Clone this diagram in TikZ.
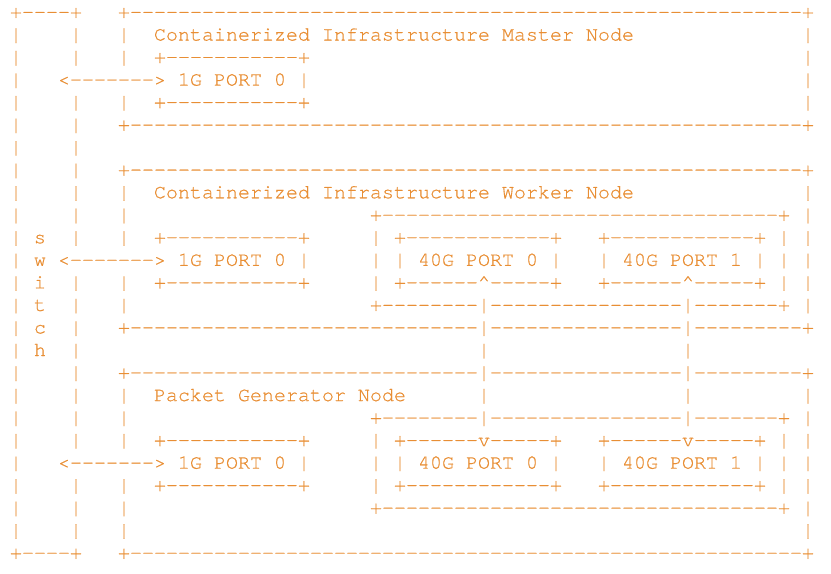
\documentclass[tikz,border=0pt]{standalone}
\usepackage{fontspec}
\setmonofont{texgyrecursor-regular.otf}[FakeBold=0.6]
\tikzset{
  ascii-row/.style={
    anchor=base west,
    inner sep=0pt,
    outer sep=0pt,
    text=asciiorange,
    font=\ttfamily\fontsize{15}{18}\selectfont
  }
}
\definecolor{asciiorange}{RGB}{232,142,52}
\newcommand{\rowpitch}{16.9pt}
\newcommand{\dashes}[1]{\foreach \k in {1,...,#1}{-}}
\newcommand{\blank}[1]{\foreach \k in {1,...,#1}{~}}
\newcommand{\asciirow}[2]{\node[ascii-row] (row#1) at (0,{-#1*\rowpitch}) {#2};}

\begin{document}
\begin{tikzpicture}
  \useasboundingbox (-7.5pt,13.5pt) rectangle ++(623.25pt,-430.5pt);
  % Master node
  \asciirow{0}{+\dashes{4}+\blank{3}+\dashes{56}+}
  \asciirow{1}{|\blank{4}|\blank{3}|\blank{2}Containerized Infrastructure Master Node\blank{14}|}
  \asciirow{2}{|\blank{4}|\blank{3}|\blank{2}+\dashes{11}+\blank{41}|}
  \asciirow{3}{|\blank{3}<\dashes{7}> 1G PORT 0 |\blank{41}|}
  \asciirow{4}{|\blank{4}|\blank{3}|\blank{2}+\dashes{11}+\blank{41}|}
  \asciirow{5}{|\blank{4}|\blank{3}+\dashes{56}+}
  \asciirow{6}{|\blank{4}|}
  % Worker node
  \asciirow{7}{|\blank{4}|\blank{3}+\dashes{56}+}
  \asciirow{8}{|\blank{4}|\blank{3}|\blank{2}Containerized Infrastructure Worker Node\blank{14}|}
  \asciirow{9}{|\blank{4}|\blank{3}|\blank{20}+\dashes{33}+\blank{1}|}
  \asciirow{10}{| s\blank{2}|\blank{3}|\blank{2}+\dashes{11}+\blank{5}| +\dashes{12}+\blank{3}+\dashes{12}+ | |}
  \asciirow{11}{| w <\dashes{7}> 1G PORT 0 |\blank{5}| | 40G PORT 0 |\blank{3}| 40G PORT 1 | | |}
  \asciirow{12}{| i\blank{2}|\blank{3}|\blank{2}+\dashes{11}+\blank{5}| +\dashes{6}\textasciicircum\dashes{5}+\blank{3}+\dashes{6}\textasciicircum\dashes{5}+ | |}
  \asciirow{13}{| t\blank{2}|\blank{3}|\blank{20}+\dashes{8}|\dashes{16}|\dashes{7}+ |}
  \asciirow{14}{| c\blank{2}|\blank{3}+\dashes{29}|\dashes{16}|\dashes{9}+}
  \asciirow{15}{| h\blank{2}|\blank{33}|\blank{16}|}
  % Packet generator node
  \asciirow{16}{|\blank{4}|\blank{3}+\dashes{29}|\dashes{16}|\dashes{9}+}
  \asciirow{17}{|\blank{4}|\blank{3}|\blank{2}Packet Generator Node\blank{6}|\blank{16}|\blank{9}|}
  \asciirow{18}{|\blank{4}|\blank{3}|\blank{20}+\dashes{8}|\dashes{16}|\dashes{7}+ |}
  \asciirow{19}{|\blank{4}|\blank{3}|\blank{2}+\dashes{11}+\blank{5}| +\dashes{6}v\dashes{5}+\blank{3}+\dashes{6}v\dashes{5}+ | |}
  \asciirow{20}{|\blank{3}<\dashes{7}> 1G PORT 0 |\blank{5}| | 40G PORT 0 |\blank{3}| 40G PORT 1 | | |}
  \asciirow{21}{|\blank{4}|\blank{3}|\blank{2}+\dashes{11}+\blank{5}| +\dashes{12}+\blank{3}+\dashes{12}+ | |}
  \asciirow{22}{|\blank{4}|\blank{3}|\blank{20}+\dashes{33}+ |}
  \asciirow{23}{|\blank{4}|\blank{3}|\blank{56}|}
  \asciirow{24}{+\dashes{4}+\blank{3}+\dashes{56}+}
\end{tikzpicture}
\end{document}
